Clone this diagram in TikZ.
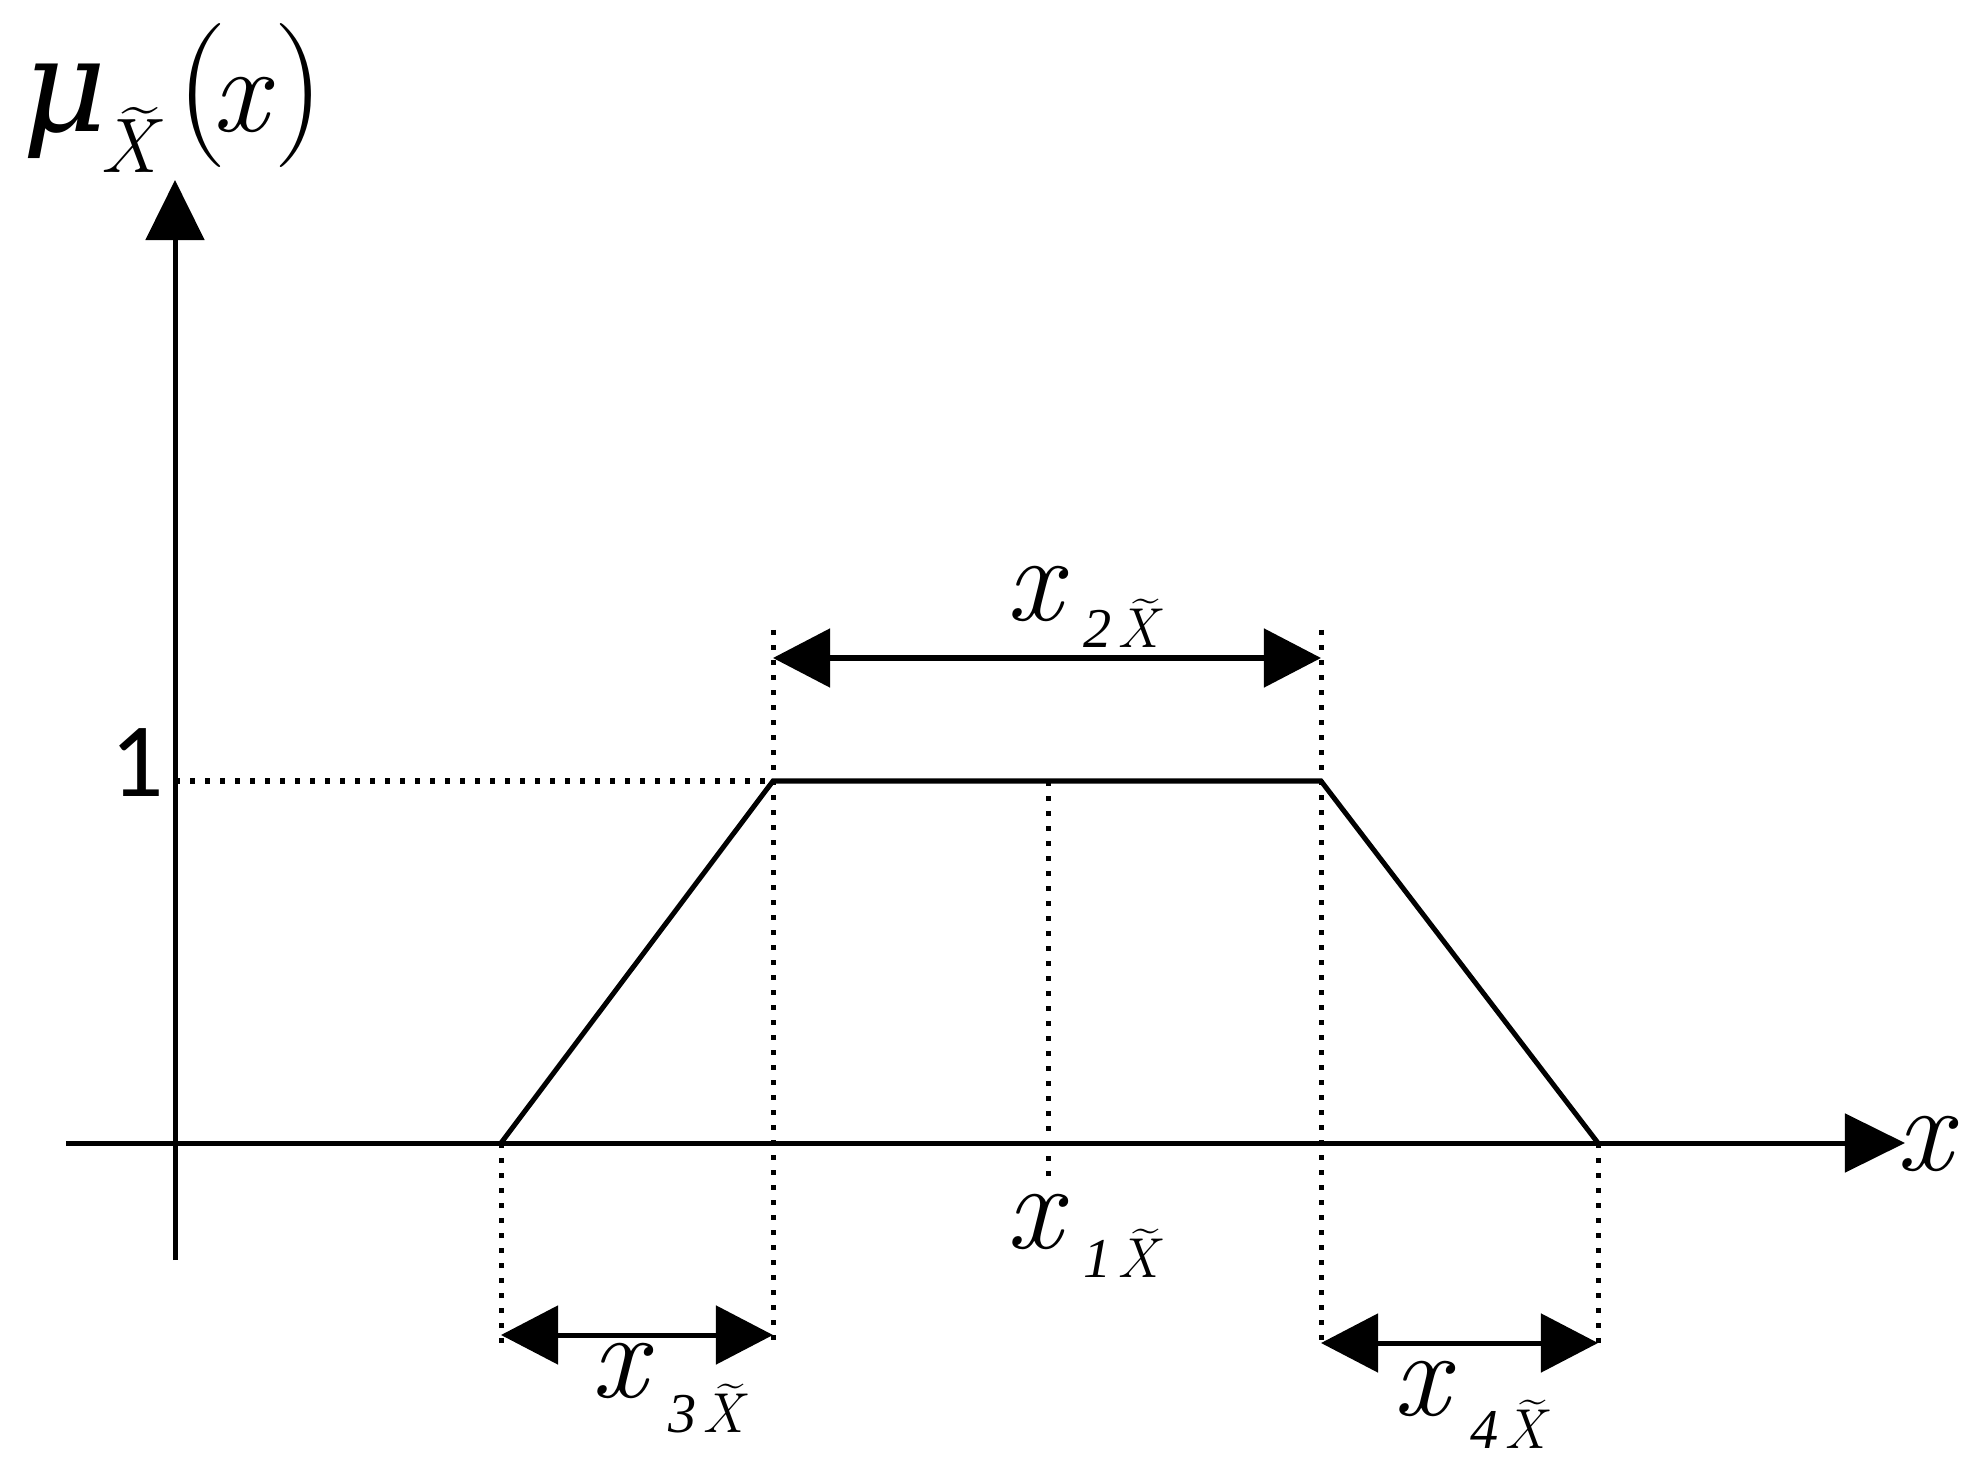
\documentclass[tikz,border=0pt]{standalone}
\usepackage{graphicx}
\usepackage{fontspec}
\newfontfamily\mufont{DejaVu Serif}
\newfontfamily\digfont{Liberation Serif}
\newfontfamily\onefont{Carlito}
\usetikzlibrary{arrows.meta}

\newcommand{\tX}{\ooalign{\textit{X}\cr\hidewidth\hspace{0.2em}\raisebox{0.2em}{\scalebox{1.5}[1]{\char"02DC}}\hidewidth\cr}}
\newcommand{\xsub}[2]{\textit{x}\hspace{0.15cm}\raisebox{-#2}{\fontsize{16}{18}\selectfont{\digfont\itshape #1}\hspace{0.05cm}\tX}}

\begin{document}
\begin{tikzpicture}[
    x=0.01cm, y=-0.01cm,
    axis/.style={line width=0.05cm, -{Triangle[length=0.6cm,width=0.58cm]}},
    trap/.style={line width=0.05cm, line join=miter},
    guide/.style={line width=0.05cm, dash pattern=on 0.05cm off 0.1cm},
    span/.style={line width=0.05cm, {Triangle[length=0.57cm,width=0.58cm]}-{Triangle[length=0.57cm,width=0.58cm]}},
    lab/.style={inner sep=0pt, anchor=base west, font=\fontsize{35}{40}\selectfont},
]
\useasboundingbox (0,0) rectangle (1975,1470);

\coordinate (xs) at (66,1143);
\coordinate (xe) at (1905,1143);
\coordinate (ys) at (175,1260);
\coordinate (ye) at (175,180);
\coordinate (one) at (175,781);
\coordinate (a) at (501,1143);
\coordinate (b) at (773,781);
\coordinate (c) at (1321,781);
\coordinate (d) at (1598,1143);
\coordinate (m) at (1048,781);
\coordinate (mlow) at (1048,1178);
\coordinate (btop) at (773,630);
\coordinate (blow) at (773,1343);
\coordinate (ctop) at (1321,630);
\coordinate (clow) at (1321,1348);
\coordinate (alow) at (501,1343);
\coordinate (dlow) at (1598,1348);
\coordinate (t1) at (773,658);
\coordinate (t2) at (1321,658);
\coordinate (l1) at (501,1335);
\coordinate (l2) at (773,1335);
\coordinate (r1) at (1321,1343);
\coordinate (r2) at (1598,1343);

\draw[guide] (one) -- (b);
\draw[guide] (m) -- (mlow);
\draw[guide] (btop) -- (blow);
\draw[guide] (ctop) -- (clow);
\draw[guide] (a) -- (alow);
\draw[guide] (d) -- (dlow);

\draw[axis] (xs) -- (xe);
\draw[axis] (ys) -- (ye);
\draw[trap] (a) -- (b) -- (c) -- (d);

\draw[span] (t1) -- (t2);
\draw[span] (l1) -- (l2);
\draw[span] (r1) -- (r2);

\node[lab, font=\mufont\itshape\fontsize{37}{44}\selectfont] (mu) at (22,132) {μ};
\node[lab, font=\fontsize{22}{26}\selectfont] (musub) at (100,173) {\tX};
\node[lab, font=\fontsize{41}{46}\selectfont] (lpar) at (176,132) {(};
\node[lab] (mux) at (212,132) {\textit{x}};
\node[lab, font=\fontsize{41}{46}\selectfont] (rpar) at (273,132) {)};
\node[inner sep=0pt, anchor=base east, font=\onefont\fontsize{30}{36}\selectfont] (lone) at (165,797) {1};
\node[lab] (xax) at (1896,1170) {\textit{x}};
\node[lab] (x2) at (1006,620) {\xsub{2}{0.27cm}};
\node[lab] (x1) at (1006,1248) {\xsub{1}{0.29cm}};
\node[lab] (x3) at (591,1397) {\xsub{3}{0.35cm}};
\node[lab] (x4) at (1393,1415) {\xsub{4}{0.33cm}};
\end{tikzpicture}
\end{document}
